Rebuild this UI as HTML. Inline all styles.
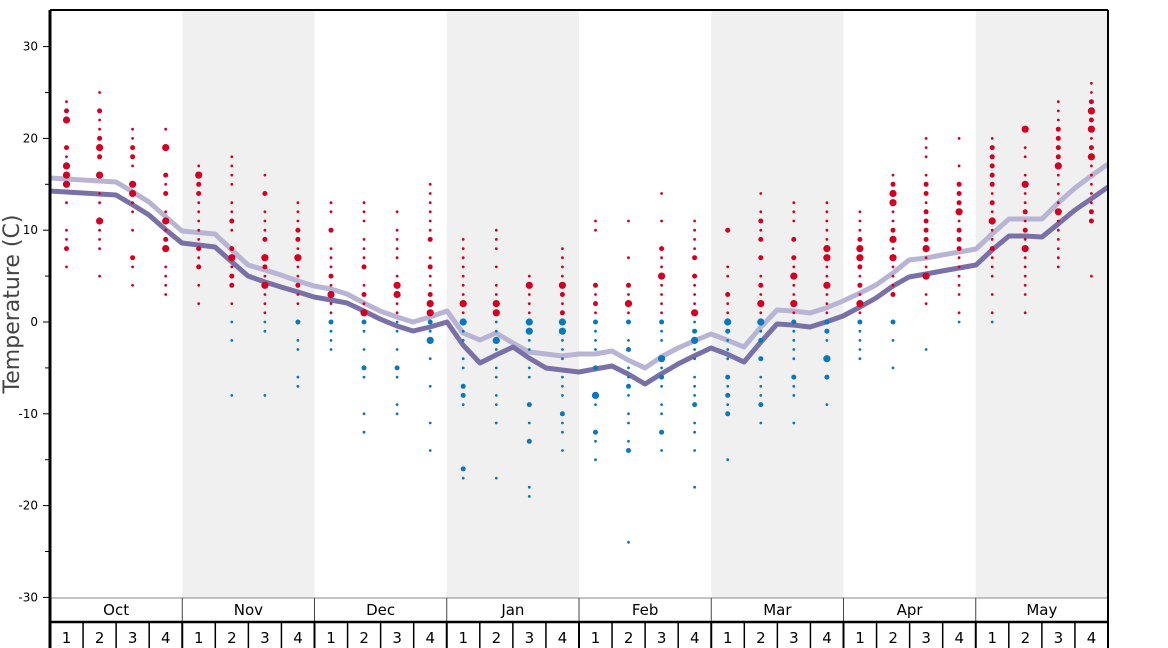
<!DOCTYPE html>
<html><head><meta charset="utf-8">
<style>
html,body{margin:0;padding:0;background:#fff;}
svg{display:block;font-family:"DejaVu Sans","Liberation Sans",sans-serif;}
</style></head>
<body>
<svg id="c" width="1168" height="648" xmlns="http://www.w3.org/2000/svg"></svg>
<script>
const S=document.getElementById('c');
let h='';
const X0=50,X1=1108,Y0=10,YB=598;
const ty=t=>322-t*9.18;
const mw=(X1-X0)/8;
// shaded bands
for(let m=1;m<8;m+=2){h+=`<rect x="${X0+m*mw}" y="${Y0}" width="${mw}" height="${YB-Y0}" fill="#f0f0f0"/>`;}
// y ticks
for(let t=-30;t<=30;t+=5){const y=ty(t);const major=t%10===0;
h+=`<line x1="${major?43:45}" y1="${y}" x2="50" y2="${y}" stroke="#000" stroke-width="1"/>`;
if(major)h+=`<text x="38" y="${y+4}" font-size="12" text-anchor="end" fill="#000">${t}</text>`;}
h+=`<text transform="translate(19,304) rotate(-90)" font-size="22" text-anchor="middle" fill="#444">Temperature (C)</text>`;
// lines
const dark=[[50,191],[83,193],[116,195],[133,205],[149,215],[166,230],[182,243],[215,247],[232,262],[248,276],[265,282],[281,287],[298,292],[314,297],[331,300],[347,303],[364,311],[380,319],[397,326],[413,331],[430,327],[447,322],[463,345],[480,363],[496,355],[513,347],[529,358],[546,368],[562,370],[579,372],[595,369],[612,366],[628,374],[645,384],[661,374],[678,364],[694,356],[711,348],[727,354],[744,362],[760,343],[777,324],[793,325],[810,327],[826,322],[843,316],[860,307],[876,298],[893,286],[909,277],[926,274],[942,271],[959,268],[976,265],[992,250],[1009,236],[1025,236],[1042,237],[1058,224],[1075,210],[1091,199],[1108,187]];
const light=[[50,178],[83,180],[116,182],[133,192],[149,202],[166,217],[182,231],[215,234],[232,250],[248,265],[265,270],[281,275],[298,281],[314,286],[331,289],[347,294],[364,303],[380,311],[397,317],[413,322],[430,317],[447,311],[463,333],[480,340],[496,333],[513,343],[529,352],[546,354],[562,356],[579,354],[595,354],[612,351],[628,360],[645,368],[661,357],[678,348],[694,341],[711,334],[727,340],[744,347],[760,328],[777,310],[793,311],[810,313],[826,308],[843,301],[860,293],[876,285],[893,273],[909,260],[926,258],[942,255],[959,252],[976,249],[992,234],[1009,219],[1025,219],[1042,219],[1058,203],[1075,188],[1091,176],[1108,164]];
h+=`<polyline points="${light.map(p=>p.join(',')).join(' ')}" fill="none" stroke="#b8b4d4" stroke-width="5" stroke-linejoin="round"/>`;
h+=`<polyline points="${dark.map(p=>p.join(',')).join(' ')}" fill="none" stroke="#7a70a8" stroke-width="5" stroke-linejoin="round"/>`;
// dots: strings, 'b' suffix = big, 'm' = medium
const D=[
"24 23m 22b 19m 18 17b 16b 15b 13 10 9 8m 6",
"25 23m 22 21 20m 19b 18m 16b 14 13 11b 10 9 8 5",
"21 20 19m 18m 17 15b 14b 13 12 10 7m 6 4",
"21 19b 16m 15 14m 12 11b 10 9m 8b 6 5 4 3",
"17 16b 15m 14m 13 12 11 10 9 8m 7 6m 4 2",
"18 17 16 15 13 12 11m 10 8m 7b 6 5m 4m 2 0 -2 -8",
"16 14m 12 11 10 9m 7b 6m 5 4b 3 2 1 0 -1 -8",
"13 12 11 10m 9m 8 7b 6 5 4m 3 2 0m -2 -3 -6 -7",
"13 12 10m 8 7 6 5m 4 3b 2 1 0m -1 -2 -3",
"13 12 11 9 8 7 6m 4 3m 2 1b 0m -1 -3 -5m -6 -10 -12",
"12 10 9 8 7 5 4b 3b 2 1 0 -1 -3 -5m -6 -9 -10",
"15 14 13 12 11 10 9m 7 6m 5 4 3m 2b 1b 0m -1 -2b -4 -7 -11 -14",
"9 8 7 6 5 4 3 2b 1 0b -1 -2 -4 -5 -7m -8m -9 -16m -17",
"10 9 8 6 4 3 2b 1b 0 -1 -2b -3 -5 -6 -8 -9 -11 -17",
"5 4b 3 2 1 0b -1b -2 -3 -5 -6 -9m -11 -13m -18 -19",
"8 7 6 5 4b 3m 2 1m 0b -1b -2 -3 -4 -6 -7 -8 -10m -11 -12 -14",
"11 10 4m 3 2m 1 0m -1 -2 -3 -5m -8b -9 -12m -13 -15",
"11 7 4m 3 2b 1 0m -2 -3m -5 -6 -7m -8 -10 -11 -13 -14m -24",
"14 11 8m 7 6 5b 4 3 2 1 0m -1 -2 -4b -5 -6m -7 -9 -10 -12m -14",
"11 10 9 8 7m 5m 4 3 2 1b 0 -1m -2b -3 -4 -6 -7 -8 -9m -11 -12 -14 -18",
"10m 6 5 3m 2 1 0b -1m -2 -3 -4 -6m -7 -8m -9 -10m -15",
"14 12 11m 10 9m 7m 5 4m 3 2b 1 0b -1 -2m -4m -6 -7 -8 -9m -11",
"13 12 11 9m 7m 6 5b 4 3 2b 1 0m -1 -2 -3 -4 -6m -7 -8 -11",
"13 12 11 10 9 8b 7b 6 5 4b 3 2 1 0m -1m -2 -4b -6m -9",
"12 11 10 9m 8b 7b 6m 5 4m 3 2b 1 0m -1 -2 -3 -4",
"16 15m 14b 13b 12 11 10m 9b 8 7b 6 5 4 3m 0m -2 -5",
"20 19 18 16 15m 14m 13 12m 11m 10m 9m 8b 7 6 5b 3 2 -3",
"20 17 15m 14m 13m 12b 11 10m 9m 8m 7 6 5 4 3 1 0",
"20 19m 18m 17m 16m 15m 14 13m 12 11b 10 9 8m 7 6 5 3 1 0",
"21b 19 18 16 15b 14 13 12m 11 10m 9 8b 7 6 5 4 3 1",
"24 23 22 21m 20m 19m 18m 17b 16 15 14 13 12b 11 10 9 8 7 6",
"26 25 24m 23b 22m 21b 20 19m 18b 17 16 15 14 13 12m 11m 5"];
D.forEach((s,i)=>{const x=X0+16.5+i*33.06;
s.split(' ').forEach(tok=>{let r=1.4;if(tok.endsWith('b')){r=3.6;tok=tok.slice(0,-1);}else if(tok.endsWith('m')){r=2.5;tok=tok.slice(0,-1);}
const t=parseFloat(tok);const c=t>0?'#d50021':'#0a78bd';
h+=`<circle cx="${x.toFixed(1)}" cy="${ty(t).toFixed(1)}" r="${r}" fill="${c}"/>`;});});
// bottom rows
h+=`<line x1="${X0}" y1="598" x2="${X1}" y2="598" stroke="#888" stroke-width="1"/>`;
const months=['Oct','Nov','Dec','Jan','Feb','Mar','Apr','May'];
months.forEach((m,i)=>{const x=X0+i*mw;
h+=`<text x="${x+mw/2}" y="615" font-size="15" text-anchor="middle" fill="#000">${m}</text>`;
if(i>0)h+=`<line x1="${x}" y1="598" x2="${x}" y2="622" stroke="#444" stroke-width="1"/>`;
for(let w=0;w<4;w++){const wx=x+w*mw/4;
h+=`<text x="${wx+mw/8}" y="643" font-size="15" text-anchor="middle" fill="#000">${w+1}</text>`;
h+=`<line x1="${wx}" y1="622" x2="${wx}" y2="648" stroke="#000" stroke-width="${w===0?2:1.5}"/>`;}});
h+=`<line x1="${X0}" y1="622" x2="${X1}" y2="622" stroke="#000" stroke-width="2.5"/>`;
// frame
h+=`<line x1="${X0}" y1="${Y0}" x2="${X1}" y2="${Y0}" stroke="#000" stroke-width="2"/>`;
h+=`<line x1="${X0}" y1="${Y0}" x2="${X0}" y2="648" stroke="#000" stroke-width="3"/>`;
h+=`<line x1="${X1}" y1="${Y0}" x2="${X1}" y2="648" stroke="#000" stroke-width="2"/>`;
S.innerHTML=h;
</script>
</body></html>
